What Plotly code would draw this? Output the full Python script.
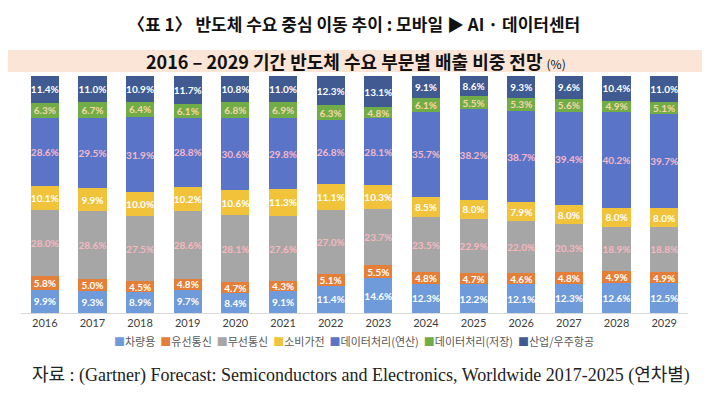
import plotly.graph_objects as go

years = [str(y) for y in range(2016, 2030)]

car = [9.9, 9.3, 8.9, 9.7, 8.4, 9.1, 11.4, 14.6, 12.3, 12.2, 12.1, 12.3, 12.6, 12.5]
wired = [5.8, 5.0, 4.5, 4.8, 4.7, 4.3, 5.1, 5.5, 4.8, 4.7, 4.6, 4.8, 4.9, 4.9]
wireless = [28.0, 28.6, 27.5, 28.6, 28.1, 27.6, 27.0, 23.7, 23.5, 22.9, 22.0, 20.3, 18.9, 18.8]
consumer = [10.1, 9.9, 10.0, 10.2, 10.6, 11.3, 11.1, 10.3, 8.5, 8.0, 7.9, 8.0, 8.0, 8.0]
dp_compute = [28.6, 29.5, 31.9, 28.8, 30.6, 29.8, 26.8, 28.1, 35.7, 38.2, 38.7, 39.4, 40.2, 39.7]
dp_storage = [6.3, 6.7, 6.4, 6.1, 6.8, 6.9, 6.3, 4.8, 6.1, 5.5, 5.3, 5.6, 4.9, 5.1]
industrial = [11.4, 11.0, 10.9, 11.7, 10.8, 11.0, 12.3, 13.1, 9.1, 8.6, 9.3, 9.6, 10.4, 11.0]

series_names = ["차량용", "유선통신", "무선통신", "소비가전", "데이터처리(연산)", "데이터처리(저장)", "산업/우주항공"]
series_values = [car, wired, wireless, consumer, dp_compute, dp_storage, industrial]
series_colors = ["#6F9BDA", "#E57E37", "#A6A6A6", "#F0C33B", "#5A75C8", "#70AD47", "#3F5B92"]
label_colors = ["#FFFFFF", "#FFFFFF", "#F6B8C0", "#FFFFFF", "#F6B8C8", "#F8D7A8", "#FFFFFF"]

title_text = "〈표 1〉 반도체 수요 중심 이동 추이 : 모바일 ▶ AI · 데이터센터"
subtitle_text = "2016 – 2029 기간 반도체 수요 부문별 배출 비중 전망"
source_text = "자료 : (Gartner) Forecast: Semiconductors and Electronics, Worldwide 2017-2025 (연차별)"

W, H = 710, 396
L, R, T, B = 21, 22, 76, 83
plot_h = H - T - B
plot_w = W - L - R


def py(pix):
    return (H - B - pix) / plot_h


def px(pix):
    return (pix - L) / plot_w


fig = go.Figure()
for name, vals, col, lcol in zip(series_names, series_values, series_colors, label_colors):
    fig.add_trace(go.Bar(
        x=years, y=vals, name=name,
        marker=dict(color=col, line=dict(width=0)),
        text=[f"{v:.1f}%" for v in vals],
        textposition="inside", insidetextanchor="middle", textangle=0,
        constraintext="none",
        textfont=dict(family="Lato, Roboto, sans-serif", size=10, color=lcol, weight="bold"),
        showlegend=False,
        hovertemplate="%{x} " + name + ": %{y:.1f}%<extra></extra>",
    ))

fig.update_layout(
    width=W, height=H,
    barmode="stack", barnorm="percent", bargap=0.41,
    margin=dict(l=L, r=R, t=T, b=B),
    paper_bgcolor="white", plot_bgcolor="white",
    xaxis=dict(type="category", showgrid=False, showline=True, linecolor="#D9D9D9", linewidth=1,
               ticks="", tickfont=dict(family="Lato, Noto Sans, sans-serif", size=11, color="#404040"),
               range=[-0.5, 13.5]),
    yaxis=dict(range=[0, 100], visible=False, showgrid=False),
    font=dict(family="Noto Sans CJK KR"),
)

# subtitle band
fig.add_shape(type="rect", xref="paper", yref="paper",
              x0=px(8), x1=px(702), y0=py(72), y1=py(50),
              fillcolor="#FBE5D6", line=dict(width=0), layer="below")

fig.add_annotation(text=title_text, xref="paper", yref="paper", x=px(354), y=py(23),
                   showarrow=False, xanchor="center", yanchor="middle",
                   font=dict(family="Noto Sans CJK KR", size=17, color="#111111", weight="bold"))

fig.add_annotation(text="<b>" + subtitle_text + "</b> <span style='font-size:12px'>(%)</span>",
                   xref="paper", yref="paper", x=px(356), y=py(61),
                   showarrow=False, xanchor="center", yanchor="middle",
                   font=dict(family="Noto Sans CJK KR", size=18, color="#111111"))

legend_html = "  ".join(
    f"<span style='color:{c}'>■</span>{n}" for n, c in zip(series_names, series_colors)
)
fig.add_annotation(text=legend_html, xref="paper", yref="paper", x=px(354), y=py(341),
                   showarrow=False, xanchor="center", yanchor="middle",
                   font=dict(family="Noto Sans CJK KR", size=11, color="#595959"))

fig.add_annotation(text=source_text, xref="paper", yref="paper", x=px(361), y=py(375),
                   showarrow=False, xanchor="center", yanchor="middle",
                   font=dict(family="Liberation Serif, Noto Sans CJK KR, serif", size=18, color="#222222"))

fig.write_html("out.html", config={"displayModeBar": False},
               post_script="document.body.style.margin='0';document.body.style.overflow='hidden';")
